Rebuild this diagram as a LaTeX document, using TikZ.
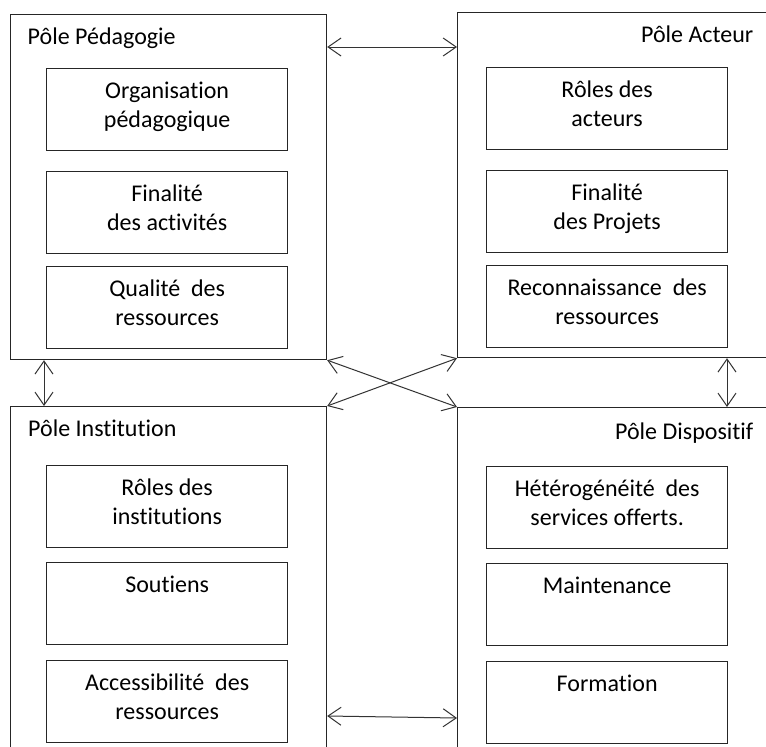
\documentclass[tikz,border=0pt]{standalone}
\usepackage{fontspec}
\setmainfont[Ligatures=NoCommon]{Carlito}
\usetikzlibrary{arrows.meta}
\begin{document}
\begin{tikzpicture}[x=1pt,y=-1pt,
  outerbox/.style={draw=black!85,line width=1.2pt,rectangle,inner sep=0pt,anchor=north west},
  innerbox/.style={draw=black!85,line width=1.3pt,rectangle,inner sep=0pt,anchor=north west,minimum width=241pt,minimum height=82pt},
  intext/.style={anchor=base,align=center,inner sep=0pt,font=\fontsize{24}{28.5}\selectfont},
  poletext/.style={anchor=base west,inner sep=0pt,font=\fontsize{24}{28.5}\selectfont},
  poletextr/.style={anchor=base east,inner sep=0pt,font=\fontsize{24}{28.5}\selectfont},
  dbl/.style={draw=black!80,line width=1pt,{Straight Barb[length=13pt,width=18pt]}-{Straight Barb[length=13pt,width=18pt]}}]
\useasboundingbox (0,0) rectangle (766,747);
\clip (0,0) rectangle (766,747);
\fill[white] (0,0) rectangle (766,747);
% outer boxes
\node[outerbox,minimum width=316pt,minimum height=345pt] (pp) at (10,14) {};
\node[outerbox,minimum width=343pt,minimum height=345pt] (pa) at (457,12) {};
\node[outerbox,minimum width=316pt,minimum height=364pt] (pi) at (10,406) {};
\node[outerbox,minimum width=343pt,minimum height=363pt] (pd) at (457,407) {};
% titles
\node[poletext] (tpp) at (27.5,44.5) {Pôle Pédagogie};
\node[poletextr] (tpa) at (753.5,42.3) {Pôle Acteur};
\node[poletext] (tpi) at (28,436) {Pôle Institution};
\node[poletextr] (tpd) at (753.5,439) {Pôle Dispositif};
% inner boxes: pedagogie
\node[innerbox] (p1) at (46,68) {};
\node[innerbox] (p2) at (46,171) {};
\node[innerbox] (p3) at (46,266) {};
\node[intext] at ([yshift=-59pt]p1.north) {Organisation\\pédagogique};
\node[intext] at ([yshift=-59pt]p2.north) {Finalité\\des activités};
\node[intext] at ([yshift=-59pt]p3.north) {Qualité\ \ des\\ressources};
% acteur
\node[innerbox] (a1) at (486,67) {};
\node[innerbox] (a2) at (486,170) {};
\node[innerbox] (a3) at (486,265) {};
\node[intext] at ([yshift=-59pt]a1.north) {Rôles des\\acteurs};
\node[intext] at ([yshift=-59pt]a2.north) {Finalité\\des Projets};
\node[intext] at ([yshift=-59pt]a3.north) {Reconnaissance\ \ des\\ressources};
% institution
\node[innerbox] (i1) at (46,465) {};
\node[innerbox] (i2) at (46,562) {};
\node[innerbox] (i3) at (46,660) {};
\node[intext] at ([yshift=-59pt]i1.north) {Rôles des\\institutions};
\node[intext] at ([yshift=-30.5pt]i2.north) {Soutiens};
\node[intext] at ([yshift=-59pt]i3.north) {Accessibilité\ \ des\\ressources};
% dispositif
\node[innerbox] (d1) at (486,466) {};
\node[innerbox] (d2) at (486,563) {};
\node[innerbox] (d3) at (486,661) {};
\node[intext] at ([yshift=-59pt]d1.north) {Hétérogénéité\ \ des\\services offerts.};
\node[intext] at ([yshift=-30.5pt]d2.north) {Maintenance};
\node[intext] at ([yshift=-30.5pt]d3.north) {Formation};
% connectors
\draw[dbl] ([yshift=-33pt]pp.north east) -- ([yshift=-35pt]pa.north west);
\draw[dbl] ([xshift=34pt]pp.south west) -- ([xshift=34pt]pi.north west);
\draw[dbl] ([xshift=270pt]pa.south west) -- ([xshift=270pt]pd.north west);
\draw[dbl] (pp.south east) -- (pd.north west);
\draw[dbl] (pi.north east) -- (pa.south west);
\draw[dbl] ([yshift=-310pt]pi.north east) -- ([yshift=-311pt]pd.north west);
\end{tikzpicture}
\end{document}
